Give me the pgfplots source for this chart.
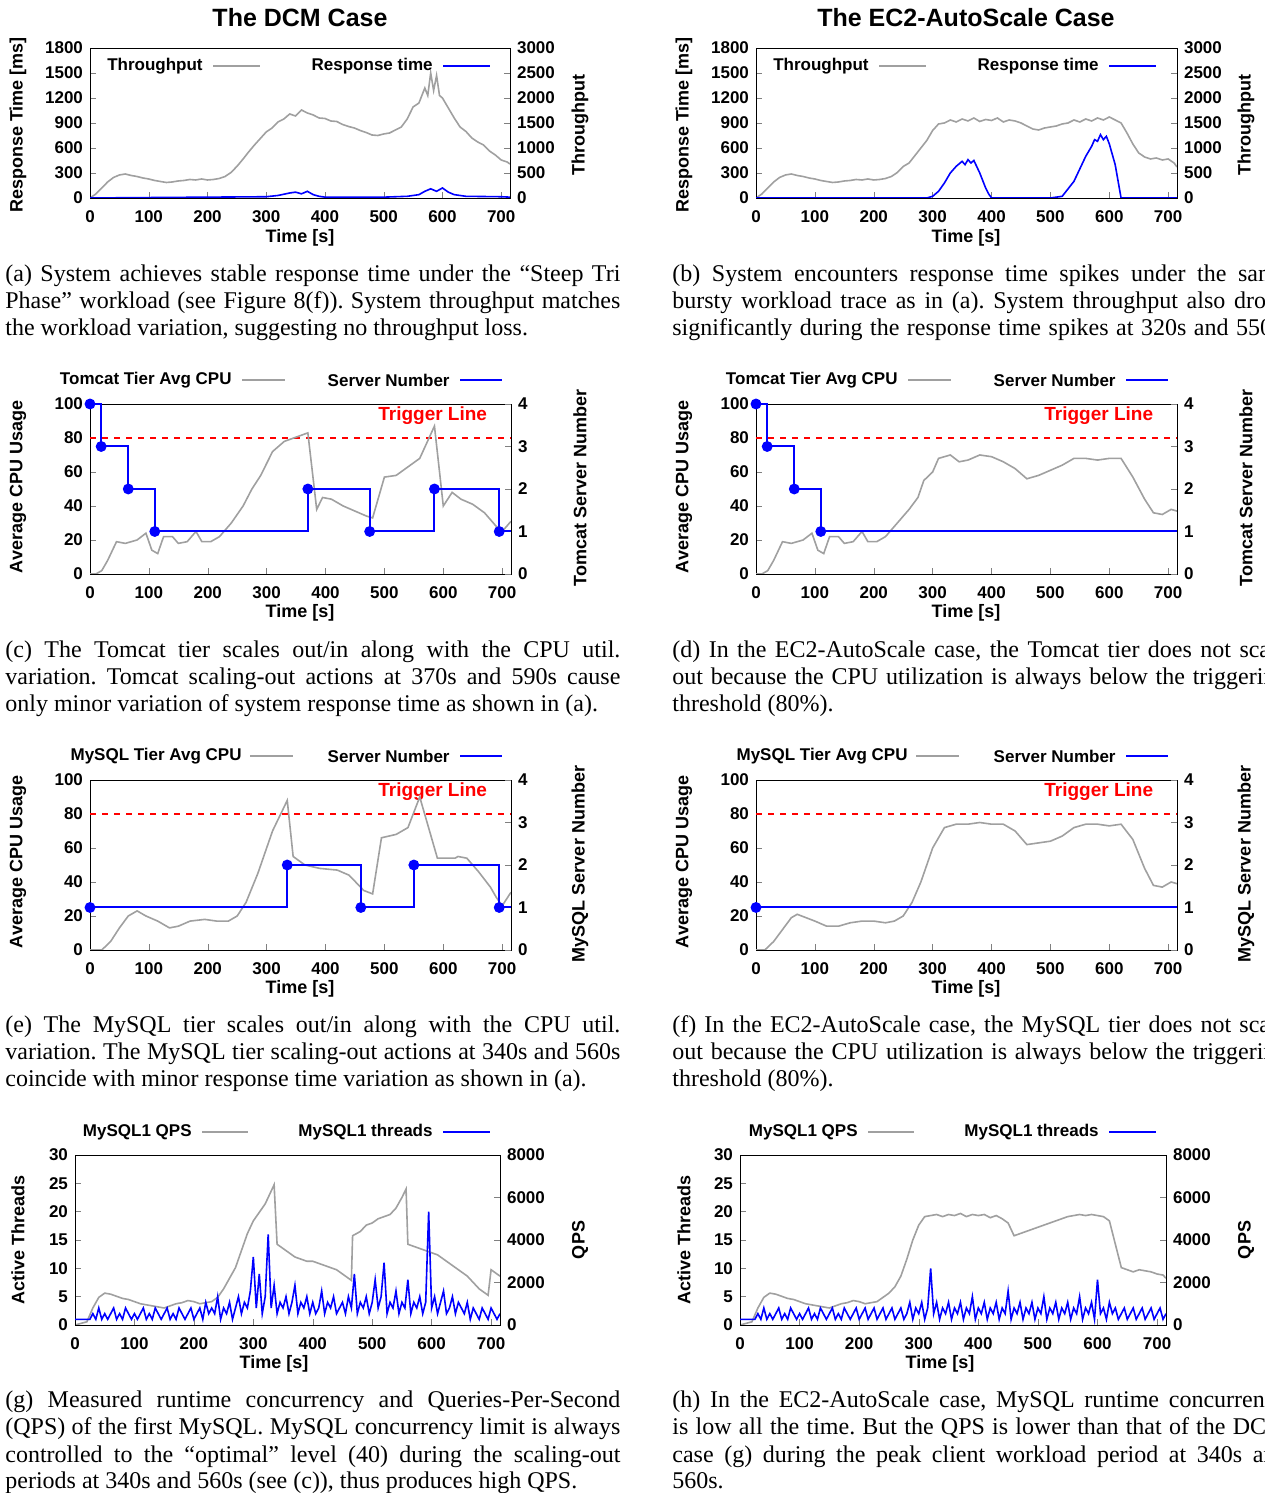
\documentclass[border=0pt]{standalone}
\usepackage{pgfplots}
\pgfplotsset{compat=1.18}
\usepackage{fontspec}
\setmainfont{Liberation Sans}
\newfontfamily\capfont{Liberation Serif}
\definecolor{gr}{RGB}{160,160,160}
\pgfplotsset{
 base/.style={scale only axis, xmin=0, xmax=715, tick align=inside,
   xtick={0,100,...,700},
   ticklabel style={font=\fontsize{8.5}{9}\selectfont\bfseries},
   xticklabel style={yshift=-3pt},
   /pgf/number format/assume math mode=true,
   /pgf/number format/1000 sep={},
   every axis plot/.append style={line width=0.8pt}, major tick length=3pt},
 L/.style={base, ytick pos=left, xtick pos=bottom},
 R/.style={base, axis x line=none, axis y line*=right, ytick pos=right},
 cpuL/.style={L, width=210.5pt, height=85pt, ymin=0, ymax=100, ytick={0,20,...,100}},
 cpuR/.style={R, width=210.5pt, height=85pt, ymin=0, ymax=4, ytick={0,1,2,3,4}},
}
\newcommand\capline[3]{\node[anchor=base west,inner sep=0,font=\capfont\fontsize{12}{13.5}\selectfont] at (#1,#2) {\frenchspacing\makebox[307.5pt][s]{#3}};}
\newcommand\caplast[3]{\node[anchor=base west,inner sep=0,font=\capfont\fontsize{12}{13.5}\selectfont] at (#1,#2) {\frenchspacing #3};}
\newcommand\trig{\addplot[red, dashed, line width=0.6pt] coordinates {(0,80)(715,80)};
 \node[red, font=\fontsize{9.5}{10}\selectfont\bfseries] at (axis cs:582,93) {Trigger Line};}
\begin{document}
\begin{tikzpicture}
\useasboundingbox (0,0) rectangle (632pt,746.5pt);
\clip (0,0) rectangle (632pt,746.5pt);
% ---------- (a)
\begin{axis}[R, at={(45pt,647.5pt)}, width=210pt, height=75pt, ymin=0, ymax=3000, ytick={0,500,...,3000}]
\addplot[gr] coordinates {(0,0)(10,80)(20,200)(30,320)(40,410)(50,460)(60,480)(70,450)(80,430)(90,400)(100,380)(110,350)(120,330)(130,310)(140,320)(150,340)(160,350)(170,370)(180,360)(190,380)(200,360)(210,370)(220,390)(230,430)(240,510)(250,630)(260,770)(270,920)(280,1060)(290,1190)(300,1320)(310,1400)(320,1520)(330,1580)(340,1680)(350,1640)(360,1760)(370,1700)(380,1660)(390,1600)(400,1590)(410,1540)(420,1530)(430,1470)(440,1430)(450,1400)(460,1350)(470,1310)(480,1260)(490,1250)(500,1280)(510,1300)(520,1360)(530,1420)(540,1580)(550,1820)(560,1900)(570,2200)(575,2050)(580,2500)(585,2150)(590,2450)(595,2050)(600,2000)(610,1800)(620,1600)(630,1420)(640,1330)(650,1200)(660,1120)(670,1060)(680,940)(690,860)(700,760)(710,720)(715,680)};
\end{axis}
\begin{axis}[L, at={(45pt,647.5pt)}, width=210pt, height=75pt, ymin=0, ymax=1800, ytick={0,300,...,1800}]
\addplot[blue] coordinates {(0,0)(100,5)(200,10)(300,15)(320,30)(340,60)(350,70)(360,50)(370,80)(380,40)(390,20)(400,10)(500,10)(540,20)(560,40)(570,80)(580,110)(590,80)(600,120)(610,70)(620,40)(640,20)(700,15)(715,10)};
\end{axis}
% ---------- (b)
\begin{axis}[R, at={(378pt,647.5pt)}, width=210.5pt, height=75pt, ymin=0, ymax=3000, ytick={0,500,...,3000}]
\addplot[gr] coordinates {(0,0)(10,80)(20,200)(30,320)(40,410)(50,460)(60,480)(70,450)(80,430)(90,400)(100,380)(110,350)(120,330)(130,310)(140,320)(150,340)(160,350)(170,370)(180,360)(190,380)(200,360)(210,370)(220,390)(230,430)(240,510)(250,630)(260,700)(270,850)(280,1000)(290,1150)(300,1350)(310,1480)(320,1500)(330,1560)(340,1520)(350,1580)(360,1540)(370,1600)(380,1530)(390,1570)(400,1550)(410,1600)(420,1520)(430,1560)(440,1540)(450,1500)(460,1440)(470,1380)(480,1360)(490,1400)(500,1420)(510,1440)(520,1480)(530,1500)(540,1560)(550,1520)(560,1580)(570,1540)(580,1600)(590,1560)(600,1620)(610,1560)(620,1500)(630,1300)(640,1080)(650,900)(660,820)(670,780)(680,800)(690,760)(700,780)(710,700)(715,620)};
\end{axis}
\begin{axis}[L, at={(378pt,647.5pt)}, width=210.5pt, height=75pt, ymin=0, ymax=1800, ytick={0,300,...,1800}]
\addplot[blue] coordinates {(0,0)(290,0)(300,20)(310,80)(320,180)(330,300)(340,380)(350,440)(355,400)(360,460)(365,420)(370,450)(380,300)(390,120)(395,50)(400,0)(500,0)(520,20)(540,200)(550,350)(560,500)(570,620)(575,700)(580,680)(585,760)(590,700)(595,740)(600,650)(610,400)(615,200)(620,0)(715,0)};
\end{axis}
% ---------- (c)
\begin{axis}[cpuL, at={(45pt,459.5pt)}]
\trig
\addplot[gr] coordinates {(0,0)(10,0)(20,2)(30,8)(45,19)(60,18)(80,20)(95,24)(105,14)(115,12)(125,22)(140,22)(150,18)(165,19)(180,25)(190,19)(205,19)(220,22)(240,30)(260,40)(275,50)(290,58)(310,72)(330,78)(370,83)(385,38)(395,45)(410,44)(430,40)(450,37)(470,34)(480,33)(500,57)(520,58)(540,63)(560,68)(585,87)(600,40)(615,48)(630,44)(650,41)(670,36)(690,28)(700,25)(715,31)};
\end{axis}
\begin{axis}[cpuR, at={(45pt,459.5pt)}]
\addplot[blue, line width=1pt, const plot] coordinates {(0,4)(19,3)(65,2)(110,1)(370,2)(475,1)(585,2)(695,1)(715,1)};
\addplot[blue, only marks, mark=*, mark size=2.3pt] coordinates {(0,4)(19,3)(65,2)(110,1)(370,2)(475,1)(585,2)(695,1)};
\end{axis}
% ---------- (d)
\begin{axis}[cpuL, at={(378pt,459.5pt)}]
\trig
\addplot[gr] coordinates {(0,0)(10,0)(20,2)(30,8)(45,19)(60,18)(80,20)(95,24)(105,14)(115,12)(125,22)(140,22)(150,18)(165,19)(180,25)(190,19)(205,19)(220,22)(240,30)(260,38)(275,45)(285,55)(300,60)(310,68)(330,70)(345,66)(360,67)(380,70)(400,69)(420,66)(440,62)(460,56)(480,58)(500,61)(520,64)(540,68)(560,68)(580,67)(600,68)(620,68)(640,57)(660,44)(675,36)(690,35)(705,38)(715,37)};
\end{axis}
\begin{axis}[cpuR, at={(378pt,459.5pt)}]
\addplot[blue, line width=1pt, const plot] coordinates {(0,4)(19,3)(65,2)(110,1)(715,1)};
\addplot[blue, only marks, mark=*, mark size=2.3pt] coordinates {(0,4)(19,3)(65,2)(110,1)};
\end{axis}
% ---------- (e)
\begin{axis}[cpuL, at={(45pt,271.5pt)}]
\trig
\addplot[gr] coordinates {(0,0)(10,0)(20,0)(35,5)(50,13)(65,20)(80,23)(95,20)(115,17)(135,13)(150,14)(170,17)(195,18)(215,17)(235,17)(250,20)(265,28)(285,45)(310,70)(335,88)(345,55)(365,50)(390,48)(420,47)(440,44)(465,35)(480,33)(495,66)(520,68)(540,72)(560,90)(580,66)(590,54)(620,54)(625,55)(640,54)(660,46)(680,37)(690,31)(700,26)(715,34)};
\end{axis}
\begin{axis}[cpuR, at={(45pt,271.5pt)}]
\addplot[blue, line width=1pt, const plot] coordinates {(0,1)(335,2)(460,1)(550,2)(695,1)(715,1)};
\addplot[blue, only marks, mark=*, mark size=2.3pt] coordinates {(0,1)(335,2)(460,1)(550,2)(695,1)};
\end{axis}
% ---------- (f)
\begin{axis}[cpuL, at={(378pt,271.5pt)}]
\trig
\addplot[gr] coordinates {(0,0)(15,0)(30,5)(45,12)(60,19)(70,21)(85,19)(100,17)(120,14)(140,14)(160,16)(180,17)(200,17)(220,16)(235,17)(250,20)(265,28)(280,40)(300,60)(320,72)(340,74)(360,74)(380,75)(400,74)(420,74)(440,70)(460,62)(480,63)(500,64)(520,67)(540,72)(560,74)(580,74)(600,73)(620,74)(640,65)(660,48)(675,38)(690,37)(705,40)(715,39)};
\end{axis}
\begin{axis}[cpuR, at={(378pt,271.5pt)}]
\addplot[blue, line width=1pt] coordinates {(0,1)(715,1)};
\addplot[blue, only marks, mark=*, mark size=2.3pt] coordinates {(0,1)};
\end{axis}
% ---------- (g)
\begin{axis}[R, at={(37.5pt,84pt)}, width=212.5pt, height=85pt, ymin=0, ymax=8000, ytick={0,2000,...,8000}]
\addplot[gr] coordinates {(0,0)(20,150)(30,800)(40,1300)(50,1500)(60,1450)(70,1350)(80,1250)(90,1200)(100,1100)(110,1000)(120,950)(130,900)(140,850)(150,800)(160,900)(170,1000)(180,1050)(190,1150)(200,1100)(210,1000)(220,1050)(230,1100)(240,1300)(250,1700)(260,2200)(270,2700)(280,3500)(290,4300)(300,4900)(310,5300)(320,5700)(330,6300)(335,6600)(340,3800)(350,3600)(360,3400)(370,3200)(380,3100)(390,3000)(400,3000)(410,2900)(420,2800)(430,2700)(440,2600)(450,2400)(460,2200)(465,2100)(467,4200)(480,4400)(490,4700)(500,4800)(510,5000)(520,5100)(530,5200)(540,5500)(550,6000)(557,6400)(560,3800)(570,3700)(580,3600)(590,3500)(600,3400)(610,3300)(620,3100)(630,2900)(640,2700)(650,2500)(660,2300)(670,2000)(680,1700)(690,1500)(695,1400)(700,2600)(710,2400)(715,2300)};
\end{axis}
\begin{axis}[L, at={(37.5pt,84pt)}, width=212.5pt, height=85pt, ymin=0, ymax=30, ytick={0,5,...,30}]
\addplot[blue] coordinates {(0,1)(5,1)(10,1)(15,1)(20,1)(25,1)(30,2)(35,1)(40,3)(45,1)(50,2)(55,1)(60,2)(65,3)(70,1)(75,2)(80,1)(85,3)(90,2)(95,1)(100,2)(105,1)(110,2)(115,3)(120,1)(125,2)(130,1)(135,3)(140,2)(145,1)(150,2)(155,3)(160,1)(165,2)(170,1)(175,3)(180,2)(185,1)(190,2)(195,3)(200,1)(205,2)(210,3)(215,1)(220,4)(225,2)(230,3)(235,2)(240,5)(245,1)(250,3)(255,2)(260,4)(265,1)(270,3)(275,5)(280,2)(285,4)(290,3)(295,6)(300,12)(305,3)(310,9)(315,2)(320,5)(325,16)(330,3)(335,7)(340,2)(345,4)(350,3)(355,5)(360,2)(365,4)(370,7)(375,2)(380,4)(385,3)(390,5)(395,2)(400,4)(405,2)(410,3)(415,6)(420,2)(425,4)(430,3)(435,5)(440,2)(445,3)(450,4)(455,2)(460,5)(465,3)(470,9)(475,2)(480,4)(485,3)(490,5)(495,2)(500,4)(505,8)(510,3)(515,5)(520,11)(525,2)(530,4)(535,3)(540,6)(545,2)(550,4)(555,3)(560,8)(565,2)(570,4)(575,3)(580,5)(585,2)(590,4)(595,20)(600,3)(605,5)(610,2)(615,4)(620,6)(625,2)(630,3)(635,5)(640,2)(645,4)(650,3)(655,2)(660,4)(665,1)(670,3)(675,2)(680,1)(685,3)(690,2)(695,1)(700,3)(705,2)(710,1)(715,2)};
\end{axis}
% ---------- (h)
\begin{axis}[R, at={(370pt,84pt)}, width=213pt, height=85pt, ymin=0, ymax=8000, ytick={0,2000,...,8000}]
\addplot[gr] coordinates {(0,0)(20,150)(30,800)(40,1300)(50,1500)(60,1450)(70,1350)(80,1250)(90,1200)(100,1100)(110,1000)(120,950)(130,900)(140,850)(150,800)(160,900)(170,1000)(180,1050)(190,1150)(200,1100)(210,1000)(220,1050)(230,1100)(240,1300)(250,1500)(260,1800)(270,2300)(280,3100)(290,4000)(300,4700)(310,5100)(320,5150)(330,5200)(340,5100)(350,5200)(360,5150)(370,5250)(380,5100)(390,5200)(400,5150)(410,5200)(420,5050)(430,5150)(440,5000)(450,4800)(460,4200)(470,4300)(480,4400)(490,4500)(500,4600)(510,4700)(520,4800)(530,4900)(540,5000)(550,5100)(560,5150)(570,5200)(580,5150)(590,5200)(600,5150)(610,5100)(620,4900)(630,3800)(640,2700)(650,2600)(660,2500)(670,2600)(680,2550)(690,2500)(700,2400)(710,2350)(715,2200)};
\end{axis}
\begin{axis}[L, at={(370pt,84pt)}, width=213pt, height=85pt, ymin=0, ymax=30, ytick={0,5,...,30}]
\addplot[blue] coordinates {(0,1)(5,1)(10,1)(15,1)(20,1)(25,1)(30,2)(35,1)(40,3)(45,1)(50,2)(55,1)(60,2)(65,3)(70,1)(75,2)(80,1)(85,3)(90,2)(95,1)(100,2)(105,1)(110,2)(115,3)(120,1)(125,2)(130,1)(135,3)(140,2)(145,1)(150,2)(155,3)(160,1)(165,2)(170,1)(175,3)(180,2)(185,1)(190,2)(195,3)(200,1)(205,2)(210,3)(215,1)(220,2)(225,3)(230,1)(235,2)(240,3)(245,1)(250,2)(255,3)(260,1)(265,2)(270,3)(275,1)(280,2)(285,4)(290,1)(295,3)(300,2)(305,4)(310,1)(315,3)(320,10)(325,2)(330,4)(335,1)(340,3)(345,2)(350,4)(355,1)(360,3)(365,2)(370,4)(375,1)(380,3)(385,2)(390,5)(395,1)(400,3)(405,2)(410,4)(415,1)(420,3)(425,2)(430,4)(435,1)(440,3)(445,2)(450,6)(455,1)(460,3)(465,2)(470,4)(475,1)(480,3)(485,2)(490,4)(495,1)(500,3)(505,2)(510,5)(515,1)(520,3)(525,2)(530,4)(535,1)(540,3)(545,2)(550,4)(555,1)(560,3)(565,2)(570,5)(575,1)(580,3)(585,2)(590,4)(595,1)(600,8)(605,2)(610,3)(615,1)(620,4)(625,2)(630,3)(635,1)(640,2)(645,3)(650,1)(655,2)(660,3)(665,1)(670,2)(675,3)(680,1)(685,2)(690,3)(695,1)(700,2)(705,3)(710,1)(715,2)};
\end{axis}
% ---------- texts in pixel coordinates
\begin{scope}[x=0.5pt, y=-0.5pt, shift={(0pt,746.5pt)}]
\tikzset{lab/.style={font=\fontsize{9}{10}\selectfont\bfseries}, leg/.style={font=\fontsize{8.5}{10}\selectfont\bfseries, anchor=east, inner sep=0}}
\node[font=\fontsize{12.5}{14}\selectfont\bfseries] at (300,18) {The DCM Case};
\node[font=\fontsize{12.5}{14}\selectfont\bfseries] at (966,18) {The EC2-AutoScale Case};
\foreach \dx in {0,666} {
 \node[lab, rotate=90] at (18+\dx,125) {Response Time [ms]};
 \node[lab, rotate=90] at (580+\dx,125) {Throughput};
 \node[lab] at (300+\dx,238) {Time [s]};
 \node[leg] at (203+\dx,66) {Throughput}; \draw[gr, line width=0.8pt] (213+\dx,66)--(260+\dx,66);
 \node[leg] at (433+\dx,66) {Response time}; \draw[blue, line width=0.8pt] (443+\dx,66)--(490+\dx,66);
 \node[lab, rotate=90] at (18+\dx,487) {Average CPU Usage};
 \node[lab, rotate=90] at (580+\dx,488) {Tomcat Server Number};
 \node[lab] at (300+\dx,613) {Time [s]};
 \node[leg] at (232+\dx,380) {Tomcat Tier Avg CPU}; \draw[gr, line width=0.8pt] (242+\dx,380)--(285+\dx,380);
 \node[leg] at (450+\dx,380) {Server Number}; \draw[blue, line width=0.8pt] (460+\dx,380)--(502+\dx,380);
 \node[lab, rotate=90] at (18+\dx,862) {Average CPU Usage};
 \node[lab, rotate=90] at (580+\dx,864) {MySQL Server Number};
 \node[lab] at (300+\dx,989) {Time [s]};
 \node[leg] at (242+\dx,756) {MySQL Tier Avg CPU}; \draw[gr, line width=0.8pt] (250+\dx,756)--(293+\dx,756);
 \node[leg] at (450+\dx,756) {Server Number}; \draw[blue, line width=0.8pt] (460+\dx,756)--(502+\dx,756);
 \node[lab, rotate=90] at (18+\dx,1240) {Active Threads};
 \node[lab, rotate=90] at (580+\dx,1240) {QPS};
 \node[lab] at (274+\dx,1364) {Time [s]};
 \node[leg] at (192+\dx,1132) {MySQL1 QPS}; \draw[gr, line width=0.8pt] (202+\dx,1132)--(248+\dx,1132);
 \node[leg] at (433+\dx,1132) {MySQL1 threads}; \draw[blue, line width=0.8pt] (443+\dx,1132)--(490+\dx,1132);
}
\capline{5}{282}{(a) System achieves stable response time under the “Steep Tri}
\capline{5}{309}{Phase” workload (see Figure 8(f)). System throughput matches}
\caplast{5}{336}{the workload variation, suggesting no throughput loss.}
\capline{672}{282}{(b) System encounters response time spikes under the same}
\capline{672}{309}{bursty workload trace as in (a). System throughput also drops}
\capline{672}{336}{significantly during the response time spikes at 320s and 550s.}
\capline{5}{658}{(c) The Tomcat tier scales out/in along with the CPU util.}
\capline{5}{685}{variation. Tomcat scaling-out actions at 370s and 590s cause}
\caplast{5}{712}{only minor variation of system response time as shown in (a).}
\capline{672}{658}{(d) In the EC2-AutoScale case, the Tomcat tier does not scale}
\capline{672}{685}{out because the CPU utilization is always below the triggering}
\caplast{672}{712}{threshold (80\%).}
\capline{5}{1033}{(e) The MySQL tier scales out/in along with the CPU util.}
\capline{5}{1060}{variation. The MySQL tier scaling-out actions at 340s and 560s}
\caplast{5}{1087}{coincide with minor response time variation as shown in (a).}
\capline{672}{1033}{(f) In the EC2-AutoScale case, the MySQL tier does not scale}
\capline{672}{1060}{out because the CPU utilization is always below the triggering}
\caplast{672}{1087}{threshold (80\%).}
\capline{5}{1408}{(g) Measured runtime concurrency and Queries-Per-Second}
\capline{5}{1435}{(QPS) of the first MySQL. MySQL concurrency limit is always}
\capline{5}{1462}{controlled to the “optimal” level (40) during the scaling-out}
\caplast{5}{1489}{periods at 340s and 560s (see (c)), thus produces high QPS.}
\capline{672}{1408}{(h) In the EC2-AutoScale case, MySQL runtime concurrency}
\capline{672}{1435}{is low all the time. But the QPS is lower than that of the DCM}
\capline{672}{1462}{case (g) during the peak client workload period at 340s and}
\caplast{672}{1489}{560s.}
\end{scope}
\end{tikzpicture}
\end{document}
